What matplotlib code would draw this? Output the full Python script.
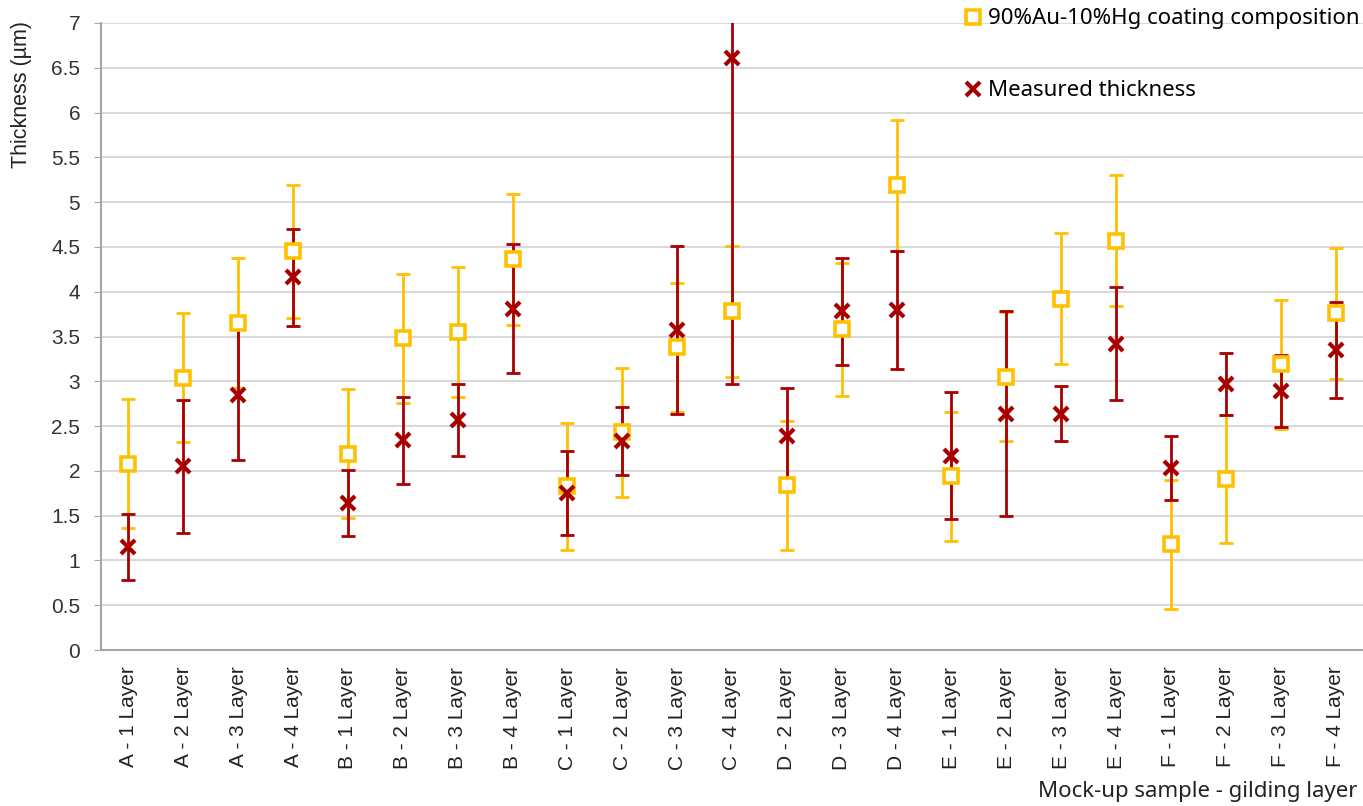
import matplotlib.pyplot as plt
import numpy as np

# Samples / layers on the x axis
samples = ["A - 1 Layer", "A - 2 Layer", "A - 3 Layer", "A - 4 Layer",
           "B - 1 Layer", "B - 2 Layer", "B - 3 Layer", "B - 4 Layer",
           "C - 1 Layer", "C - 2 Layer", "C - 3 Layer", "C - 4 Layer",
           "D - 2 Layer", "D - 3 Layer", "D - 4 Layer",
           "E - 1 Layer", "E - 2 Layer", "E - 3 Layer", "E - 4 Layer",
           "F - 1 Layer", "F - 2 Layer", "F - 3 Layer", "F - 4 Layer"]

# 90%Au-10%Hg coating composition (um) and its error
comp = [2.08, 3.04, 3.65, 4.45, 2.19, 3.48, 3.55, 4.36, 1.83, 2.43, 3.38, 3.78,
        1.84, 3.58, 5.19, 1.94, 3.05, 3.92, 4.57, 1.18, 1.91, 3.19, 3.76]
comp_err = [0.72, 0.72, 0.73, 0.74, 0.72, 0.72, 0.73, 0.73, 0.71, 0.72, 0.72, 0.73,
            0.72, 0.74, 0.73, 0.72, 0.72, 0.73, 0.73, 0.72, 0.71, 0.72, 0.73]

# measured thickness (um) and its error
meas = [1.15, 2.05, 2.85, 4.16, 1.64, 2.34, 2.57, 3.81, 1.75, 2.33, 3.57, 6.61,
        2.39, 3.78, 3.80, 2.17, 2.64, 2.64, 3.42, 2.03, 2.97, 2.89, 3.35]
meas_err = [0.37, 0.74, 0.73, 0.54, 0.37, 0.49, 0.40, 0.72, 0.47, 0.38, 0.94, 3.64,
            0.53, 0.60, 0.66, 0.71, 1.14, 0.31, 0.63, 0.36, 0.35, 0.40, 0.54]

yellow = "#FFC000"
red = "#A80000"
tick_font = "Liberation Sans"
text_font = "Noto Sans"

fig = plt.figure(figsize=(13.63, 8.06), dpi=100)
ax = fig.add_axes([0.0741, 0.1935, 0.9259, 0.778])

x = np.arange(len(samples))

ax.errorbar(x, comp, yerr=comp_err, fmt="none", ecolor=yellow, elinewidth=2,
            capsize=5, capthick=2, zorder=2)
ax.errorbar(x, meas, yerr=meas_err, fmt="none", ecolor=red, elinewidth=2,
            capsize=5, capthick=2, zorder=3)
ax.plot(x, comp, ls="none", marker="s", ms=9.5, mfc="white", mec=yellow, mew=2.6,
        zorder=4, label="90%Au-10%Hg coating composition")
ax.plot(x, meas, ls="none", marker="x", ms=10, mec=red, mew=3,
        zorder=5, label="Measured thickness")

ax.set_xlim(-0.5, len(samples) - 0.5)
ax.set_ylim(0, 7)
ax.set_yticks(np.arange(0, 7.01, 0.5))
ax.set_yticklabels(["0", "0.5", "1", "1.5", "2", "2.5", "3", "3.5", "4", "4.5",
                    "5", "5.5", "6", "6.5", "7"],
                   fontfamily=tick_font, fontsize=15, color="#333333")
ax.set_xticks(x)
ax.set_xticklabels(samples, rotation=90, fontfamily=tick_font, fontsize=15,
                   color="#222222")
ax.tick_params(axis="x", length=0, pad=12)
ax.tick_params(axis="y", length=5, color="#A6A6A6", pad=10)

ax.grid(axis="y", color="#D9D9D9", lw=1.5)
ax.set_axisbelow(True)
for s in ["top", "right"]:
    ax.spines[s].set_visible(False)
for s in ["left", "bottom"]:
    ax.spines[s].set_color("#A6A6A6")
    ax.spines[s].set_linewidth(1.5)

fig.text(22 / 1363, 1 - 95 / 806, "Thickness (µm)", rotation=90, ha="center",
         va="center", fontfamily=tick_font, fontsize=15.5, color="#222222")
fig.text(1357 / 1363, 1 - 792 / 806, "Mock-up sample - gilding layer", ha="right",
         va="center", fontfamily=text_font, fontsize=16, color="#222222")

leg = fig.legend(loc="upper right", bbox_to_anchor=(1.0, 1 - 5 / 806), frameon=False,
                 prop={"family": text_font, "size": 16}, handlelength=0.7,
                 handletextpad=0.35, labelspacing=2.3, borderaxespad=0.0,
                 borderpad=0.15)

fig.savefig("out.png", dpi=100)
